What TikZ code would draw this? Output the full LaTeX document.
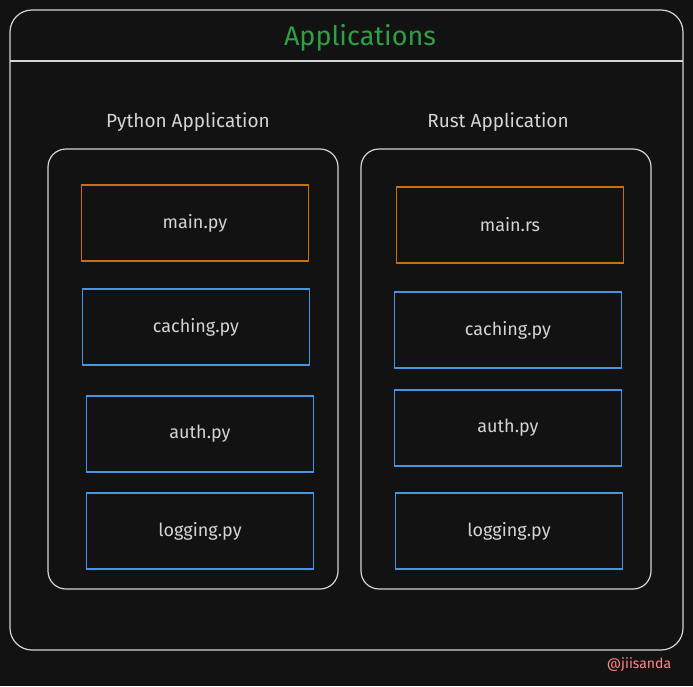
\documentclass[tikz,border=0pt]{standalone}
\usepackage{fontspec}
\setmainfont{Fira Sans}
\usetikzlibrary{positioning}
\definecolor{bgdark}{HTML}{121212}
\definecolor{strokegray}{HTML}{D4D4D4}
\definecolor{mainorange}{HTML}{C8700E}
\definecolor{modblue}{HTML}{4A93E0}
\definecolor{titlegreen}{HTML}{2F9E44}
\definecolor{tagpink}{HTML}{FF8787}
\tikzset{
  frame/.style={rectangle, draw=strokegray, line width=1.2pt, rounded corners=22pt},
  appbox/.style={rectangle, draw=strokegray, line width=1.2pt, rounded corners=18pt,
                 minimum width=290pt, minimum height=440pt},
  entry/.style={rectangle, draw=mainorange, line width=1.3pt, minimum width=227pt,
                minimum height=76pt, text=strokegray, font=\fontsize{18}{21}\selectfont},
  module/.style={entry, draw=modblue},
  head/.style={text=strokegray, font=\fontsize{19}{22}\selectfont},
  sep/.style={draw=strokegray, line width=1.2pt},
}
\begin{document}
\begin{tikzpicture}[x=1pt,y=-1pt]
\fill[bgdark] (0,0) rectangle (693,686);
\useasboundingbox (0,0) rectangle (693,686);
\node[frame, minimum width=673pt, minimum height=640pt] (apps) at (346.5,330) {};
\node[text=titlegreen, font=\fontsize{27}{30}\selectfont] (title) at (360,38) {Applications};
\coordinate (sepL) at (10,61);
\coordinate (sepR) at (683,61);
\draw[sep] (sepL) -- (sepR);
% python side
\node[head] (pyhead) at (188,122) {Python Application};
\node[appbox] (pyapp) at (193,369) {};
\node[entry] (pymain) at (195,223) {main.py};
\node[module] (pycache) at (196,327) {caching.py};
\node[module] (pyauth) at (200,434) {auth.py};
\node[module] (pylog) at (200,531) {logging.py};
% rust side
\node[head] (rshead) at (498,122) {Rust Application};
\node[appbox] (rsapp) at (506,369) {};
\node[entry] (rsmain) at (510,225) {main.rs};
\node[module] (rscache) at (508,330) {caching.py};
\node[module] (rsauth) at (508,428) {auth.py};
\node[module] (rslog) at (509,531) {logging.py};
\node[text=tagpink, font=\fontsize{14}{16}\selectfont] (tag) at (639,665) {@jiisanda};
\end{tikzpicture}
\end{document}
